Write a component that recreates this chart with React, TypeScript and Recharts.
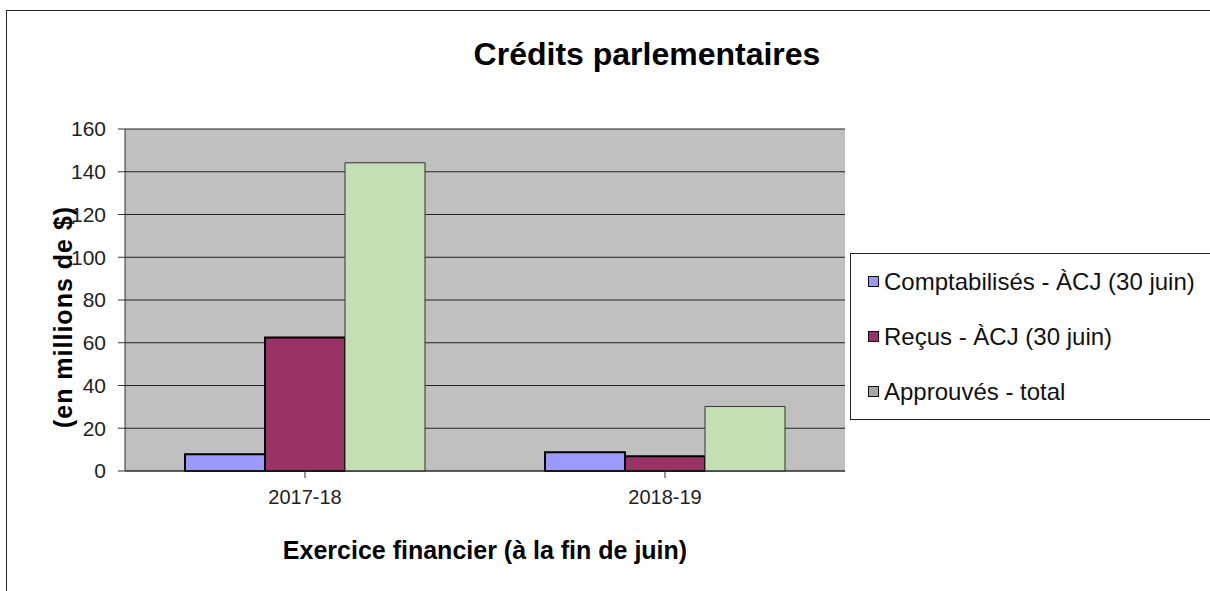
import { Bar, BarChart, CartesianGrid, Label, Legend, XAxis, YAxis } from "recharts";

const years = ["2017-18", "2018-19"];
const comptabilises = [7.8, 8.8];
const recus = [62.4, 6.9];
const approuves = [144.2, 30.2];
const yTicks = [0, 20, 40, 60, 80, 100, 120, 140, 160];

const FONT = '"Liberation Sans", Arial, sans-serif';

const data = years.map((year, i) => ({
  year,
  comptabilises: comptabilises[i],
  recus: recus[i],
  approuves: approuves[i],
}));

const legendItems = [
  { label: "Comptabilisés - ÀCJ (30 juin)", color: "#9999ff" },
  { label: "Reçus - ÀCJ (30 juin)", color: "#993366" },
  { label: "Approuvés - total", color: "#a6a6a6" },
];

function LegendBox() {
  return (
    <div
      style={{
        border: "1.5px solid #222",
        background: "#fff",
        height: 167,
        boxSizing: "border-box",
        padding: "0 0 0 17px",
        fontFamily: FONT,
        fontSize: 24,
        color: "#111",
      }}
    >
      {legendItems.map((item) => (
        <div key={item.label} style={{ display: "flex", alignItems: "center", height: 55 }}>
          <span
            style={{
              width: 9,
              height: 9,
              background: item.color,
              border: "1.5px solid #111",
              marginRight: 5,
              display: "inline-block",
            }}
          />
          {item.label}
        </div>
      ))}
    </div>
  );
}

function YTitle(props: any) {
  const vb = props.viewBox || { x: 0, width: 125, y: 129, height: 342 };
  const cx = vb.x + vb.width / 2;
  const cy = vb.y + vb.height / 2 + 17;
  return (
    <text
      x={cx}
      y={cy}
      transform={`rotate(-90 ${cx} ${cy})`}
      textAnchor="middle"
      dominantBaseline="central"
      style={{ fill: "#000", fontSize: 25, fontWeight: "bold", fontFamily: FONT, letterSpacing: 1 }}
    >
      (en millions de $)
    </text>
  );
}

export default function App() {
  return (
    <div style={{ position: "absolute", left: 0, top: 0, width: 1210, height: 591, background: "#fff" }}>
      <div
        style={{
          position: "absolute",
          left: 6,
          top: 10,
          right: 0,
          bottom: 0,
          borderTop: "1.5px solid #222",
          borderLeft: "1.5px solid #222",
        }}
      />
      <div
        style={{
          position: "absolute",
          left: 0,
          width: 1294,
          top: 36,
          textAlign: "center",
          fontFamily: FONT,
          fontWeight: "bold",
          fontSize: 32,
          color: "#000",
        }}
      >
        Crédits parlementaires
      </div>
      <BarChart
        width={1210}
        height={591}
        data={data}
        margin={{ top: 129, right: 365, left: 0, bottom: 0 }}
        barCategoryGap="16.67%"
        barGap={0}
        style={{ position: "absolute", left: 0, top: 0 }}
      >
        <CartesianGrid
          stroke="#222"
          vertical={false}
          fill="#c0c0c0"
          horizontalValues={yTicks}
        />
        <XAxis
          dataKey="year"
          height={120}
          tickSize={7}
          tickMargin={12}
          stroke="#333"
          tick={{ fill: "#222", fontSize: 20, fontFamily: FONT }}
        >
          <Label
            value="Exercice financier (à la fin de juin)"
            position="insideBottom"
            offset={32}
            style={{ fill: "#000", fontSize: 25, fontWeight: "bold", fontFamily: FONT }}
          />
        </XAxis>
        <YAxis
          width={125}
          domain={[0, 160]}
          ticks={yTicks}
          interval={0}
          tickSize={7}
          tickMargin={12}
          stroke="#333"
          tick={{ fill: "#222", fontSize: 21, fontFamily: FONT }}
        >
          <Label content={<YTitle />} />
        </YAxis>
        <Legend
          layout="vertical"
          align="center"
          verticalAlign="middle"
          content={() => <LegendBox />}
          wrapperStyle={{ left: 850, top: 253, width: 380 }}
        />
        <Bar dataKey="comptabilises" fill="#9999ff" stroke="#000" strokeWidth={2} isAnimationActive={false} />
        <Bar dataKey="recus" fill="#993366" stroke="#000" strokeWidth={2} isAnimationActive={false} />
        <Bar dataKey="approuves" fill="#c4dfb4" stroke="#333" strokeWidth={1} isAnimationActive={false} />
      </BarChart>
    </div>
  );
}
